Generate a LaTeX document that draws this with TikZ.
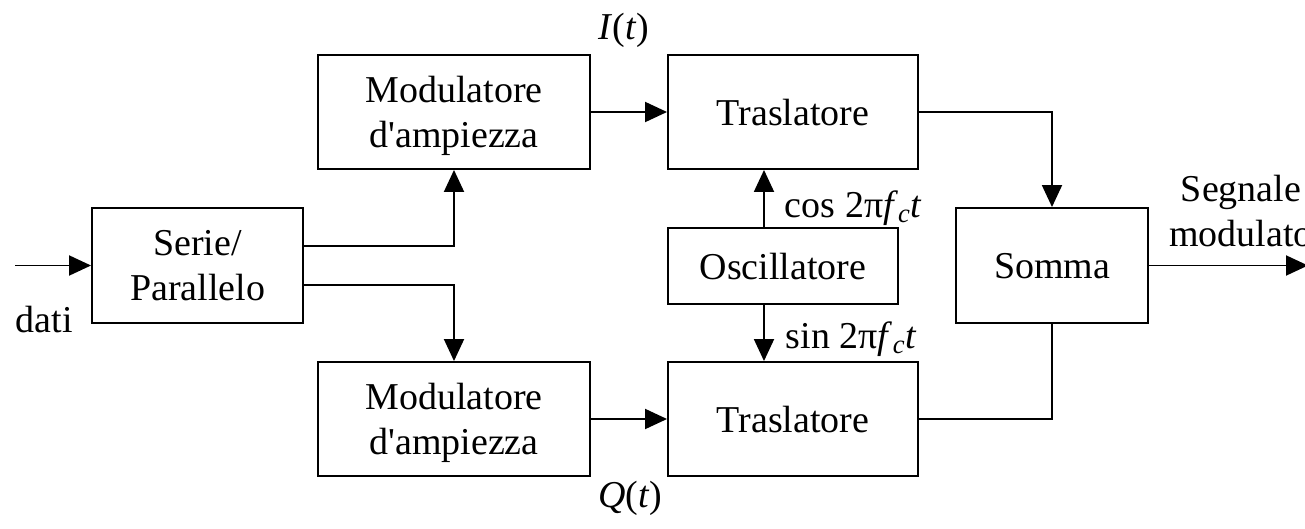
\documentclass[tikz,border=0pt]{standalone}
\usepackage{fontspec}
\setmainfont{Liberation Serif}[Ligatures=TeXOff]
\usepackage{tikz}
\usetikzlibrary{arrows.meta}

\begin{document}
\begin{tikzpicture}[x=0.2mm,y=-0.2mm,line width=1.1pt,
    font=\fontsize{21.6}{25.6}\selectfont,
    blk/.style={draw,inner sep=0pt,align=center,text depth=-1.6mm},
    arr/.style={-{Triangle[length=4.4mm,width=4mm]}}]
          \useasboundingbox (0,0) rectangle (1305,529);
          % blocchi
          \node[blk,minimum width=42.2mm,minimum height=23mm] (sp) at (197.5,265.5) {Serie/\\Parallelo};
          \node[blk,minimum width=54.4mm,minimum height=22.8mm] (modI) at (454,112) {Modulatore\\d'ampiezza};
          \node[blk,minimum width=54.4mm,minimum height=22.8mm] (modQ) at (454,419) {Modulatore\\d'ampiezza};
          \node[blk,minimum width=50mm,minimum height=22.8mm] (traI) at (793,112) {Traslatore};
          \node[blk,minimum width=50mm,minimum height=22.8mm] (traQ) at (793,419) {Traslatore};
          \node[blk,minimum width=46mm,minimum height=15.2mm] (osc) at (783,266) {Oscillatore};
          \node[blk,minimum width=38.4mm,minimum height=23mm] (somma) at (1052,265.5) {Somma};
          \coordinate (in) at (15,265.5);
          \coordinate (out) at (1308,265.5);
          % collegamenti
          \draw[arr] (in) -- (sp.west);
          \draw[arr] ([yshift=3.9mm]sp.east) -| (modI.south);
          \draw[arr] ([yshift=-3.9mm]sp.east) -| (modQ.north);
          \draw[arr] (modI.east) -- (traI.west);
          \draw[arr] (modQ.east) -- (traQ.west);
          \draw[arr] ([xshift=-3.8mm]osc.north) -- ([xshift=-3.8mm]osc.north |- traI.south);
          \draw[arr] ([xshift=-3.8mm]osc.south) -- ([xshift=-3.8mm]osc.south |- traQ.north);
          \draw[arr] (traI.east) -| (somma.north);
          \draw (traQ.east) -| (somma.south);
          \draw[arr] (somma.east) -- (out);
          % etichette
          \node (lI) at (624,30) {\textit{I}(\textit{t})};
          \node (lQ) at (630,498) {\textit{Q}(\textit{t})};
          \node[anchor=base west,inner sep=0pt] (lcos) at (784,217) {cos 2π\textit{f}\textsubscript{\textit{c}}\textit{t}};
          \node[anchor=base west,inner sep=0pt] (lsin) at (785,348) {sin 2π\textit{f}\textsubscript{\textit{c}}\textit{t}};
          \node[anchor=base west,inner sep=0pt] (ldati) at (15,332) {dati};
          \node[align=center,inner sep=0pt,anchor=north] (lout) at (1241,174) {Segnale\\modulato};
        \end{tikzpicture}
\end{document}
